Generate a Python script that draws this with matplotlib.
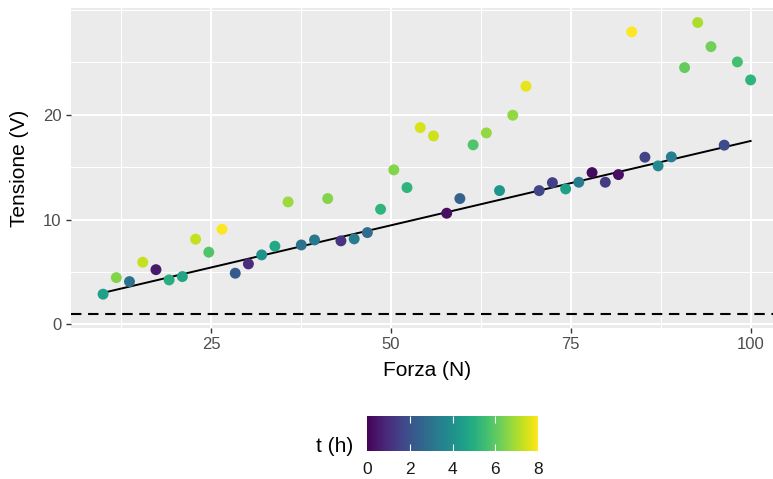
import numpy as np
import matplotlib
matplotlib.use("Agg")
import matplotlib.pyplot as plt
from matplotlib.ticker import MultipleLocator

# forza applicata (N), tensione misurata (V), tempo (h)
forza = [10.00, 11.84, 13.67, 15.51, 17.35, 19.18, 21.02, 22.86, 24.69, 26.53,
         28.37, 30.20, 32.04, 33.88, 35.71, 37.55, 39.39, 41.22, 43.06, 44.90,
         46.73, 48.57, 50.41, 52.24, 54.08, 55.92, 57.76, 59.59, 61.43, 63.27,
         65.10, 66.94, 68.78, 70.61, 72.45, 74.29, 76.12, 77.96, 79.80, 81.63,
         83.47, 85.31, 87.14, 88.98, 90.82, 92.65, 94.49, 96.33, 98.16, 100.00]
tensione = [2.87, 4.45, 4.07, 5.92, 5.21, 4.23, 4.55, 8.12, 6.88, 9.07,
            4.87, 5.76, 6.62, 7.45, 11.68, 7.57, 8.05, 12.00, 7.96, 8.15,
            8.75, 10.98, 14.74, 13.05, 18.78, 17.98, 10.60, 12.00, 17.13, 18.27,
            12.76, 19.96, 22.73, 12.76, 13.52, 12.92, 13.56, 14.48, 13.56, 14.29,
            27.92, 15.95, 15.12, 15.98, 24.51, 28.81, 26.51, 17.10, 25.05, 23.33]
tempo = [4.5, 6.5, 3.0, 7.3, 0.5, 5.0, 4.7, 7.3, 5.8, 8.0,
         2.3, 1.0, 4.0, 4.8, 6.8, 3.0, 3.2, 6.5, 1.2, 3.3,
         2.8, 5.2, 6.5, 5.2, 7.5, 7.4, 0.3, 2.5, 5.8, 6.7,
         4.2, 6.7, 7.7, 1.7, 1.5, 4.5, 3.3, 0.2, 1.4, 0.3,
         8.0, 1.6, 3.8, 3.4, 6.1, 7.0, 6.3, 1.8, 5.6, 5.2]

# retta di riferimento e soglia
retta_x = [10, 100]
retta_y = [3.0, 17.5]
soglia = 1.0

plt.rcParams['font.family'] = ['Liberation Sans', 'DejaVu Sans']
W, H = 773, 479
fig = plt.figure(figsize=(W / 100, H / 100), dpi=100)

# pannello (si estende oltre il bordo destro)
left, right, top, bottom = 70.7, 783.0, 8.0, 328.3
ax = fig.add_axes([left / W, 1 - bottom / H, (right - left) / W, (bottom - top) / H])
ax.set_facecolor('#EBEBEB')
for s in ax.spines.values():
    s.set_visible(False)

ax.set_xlim(5.5, 104.5)
ax.set_ylim(-0.39, 30.2)
ax.xaxis.set_major_locator(MultipleLocator(25))
ax.xaxis.set_minor_locator(MultipleLocator(12.5))
ax.yaxis.set_major_locator(MultipleLocator(10))
ax.yaxis.set_minor_locator(MultipleLocator(5))
ax.grid(which='major', color='white', lw=1.5)
ax.grid(which='minor', color='white', lw=0.75)
ax.set_axisbelow(True)
ax.tick_params(which='major', length=3.5, width=1.0, color='#333333',
               labelsize=12, labelcolor='#4D4D4D', pad=3)
ax.tick_params(which='minor', length=0)
ax.set_xticks([25, 50, 75, 100])
ax.set_yticks([0, 10, 20])

ax.axhline(soglia, color='black', lw=1.5, ls=(0, (5, 3.2)), zorder=2)
ax.plot(retta_x, retta_y, color='black', lw=1.4, zorder=2)
sc = ax.scatter(forza, tensione, c=tempo, cmap='viridis', vmin=0, vmax=8,
                s=62, linewidths=0, zorder=3)

fig.text(427 / W, 1 - 370 / H, 'Forza (N)', ha='center', va='center', fontsize=15)
fig.text(20 / W, 1 - 168 / H, 'Tensione (V)', ha='center', va='center',
         fontsize=15, rotation=90)

# barra dei colori
cx0, cx1, cy0, cy1 = 366.7, 538.3, 416.0, 451.0
cax = fig.add_axes([cx0 / W, 1 - cy1 / H, (cx1 - cx0) / W, (cy1 - cy0) / H])
cb = fig.colorbar(sc, cax=cax, orientation='horizontal')
cb.outline.set_visible(False)
cb.set_ticks([0, 2, 4, 6, 8])
cax.tick_params(length=0, labelsize=12.5, labelcolor='#1A1A1A', pad=8)
tr = cax.get_xaxis_transform()
cax.vlines([2, 4, 6], 0, 0.2, color='white', lw=0.8, transform=tr)
cax.vlines([2, 4, 6], 0.8, 1, color='white', lw=0.8, transform=tr)
fig.text(353 / W, 1 - 446 / H, 't (h)', ha='right', va='center', fontsize=15)

fig.savefig('out.png', dpi=100)
